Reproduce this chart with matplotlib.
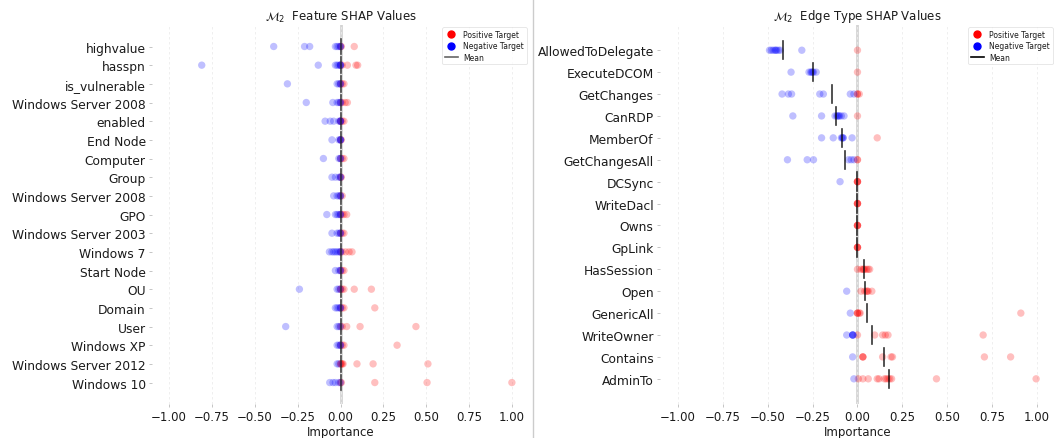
import matplotlib
matplotlib.use("Agg")
import matplotlib.pyplot as plt
from matplotlib.lines import Line2D

# ---- left panel: node feature SHAP values (top to bottom) ----
feature_labels = ["highvalue", "hasspn", "is_vulnerable", "Windows Server 2008", "enabled",
                  "End Node", "Computer", "Group", "Windows Server 2008", "GPO",
                  "Windows Server 2003", "Windows 7", "Start Node", "OU", "Domain",
                  "User", "Windows XP", "Windows Server 2012", "Windows 10"]
feature_neg = [
    [-0.39, -0.21, -0.18, -0.03, -0.02, -0.01, 0.0, 0.0],
    [-0.81, -0.13, -0.03, -0.02, -0.01, 0.0, 0.0, 0.0],
    [-0.31, -0.02, -0.01, 0.0, 0.0],
    [-0.20, -0.045, -0.02, -0.01, 0.0, 0.0],
    [-0.09, -0.06, -0.04, -0.01, 0.0, 0.0, 0.0],
    [-0.05, -0.01, 0.0, 0.0, 0.0],
    [-0.10, -0.01, 0.0, 0.0],
    [-0.05, -0.03, -0.01, 0.0, 0.0],
    [-0.04, -0.02, -0.01, 0.0, 0.0],
    [-0.08, -0.03, -0.02, -0.01, 0.0, 0.0],
    [-0.05, -0.02, -0.01, 0.0, 0.0],
    [-0.065, -0.05, -0.04, -0.03, -0.02, -0.01, 0.0, 0.0],
    [-0.03, -0.01, 0.0, 0.0],
    [-0.24, -0.02, -0.01, 0.0],
    [-0.03, -0.02, -0.01, 0.0, 0.0],
    [-0.32, -0.02, -0.01, 0.0],
    [-0.02, -0.01, 0.0, 0.0],
    [-0.02, -0.01],
    [-0.063, -0.044, -0.03, -0.01, 0.0],
]
feature_pos = [
    [0.0, 0.005, 0.08],
    [0.0, 0.01, 0.04, 0.09, 0.10],
    [0.0, 0.01, 0.02],
    [0.0, 0.01, 0.027, 0.04],
    [0.0, 0.0, 0.01, 0.02],
    [0.0, 0.005],
    [0.0, 0.01, 0.02],
    [0.0, 0.005],
    [0.0, 0.01],
    [0.0, 0.01, 0.02, 0.036],
    [0.0, 0.01, 0.02],
    [0.0, 0.01, 0.03, 0.05, 0.067],
    [0.0, 0.01, 0.02],
    [0.0, 0.0, 0.01, 0.02, 0.08, 0.18],
    [0.0, 0.01, 0.02, 0.20],
    [0.0, 0.01, 0.036, 0.114, 0.44],
    [0.0, 0.01, 0.02, 0.33],
    [0.0, 0.0, 0.005, 0.01, 0.015, 0.096, 0.19, 0.51],
    [0.0, 0.005, 0.20, 0.505, 1.0],
]
feature_mean = [0.0, 0.0, 0.0, 0.0, 0.0, 0.0, 0.0, 0.0, 0.0, 0.0,
                0.0, 0.0, 0.0, 0.0, 0.0, 0.0, 0.0, 0.0, 0.0]

# ---- right panel: edge type SHAP values (top to bottom) ----
edge_labels = ["AllowedToDelegate", "ExecuteDCOM", "GetChanges", "CanRDP", "MemberOf",
               "GetChangesAll", "DCSync", "WriteDacl", "Owns", "GpLink", "HasSession",
               "Open", "GenericAll", "WriteOwner", "Contains", "AdminTo"]
edge_neg = [
    [-0.49, -0.48, -0.47, -0.46, -0.455, -0.45, -0.44, -0.43, -0.31],
    [-0.37, -0.27, -0.26, -0.255, -0.25, -0.245, -0.23],
    [-0.42, -0.385, -0.367, -0.21, -0.19, -0.04, -0.02],
    [-0.36, -0.20, -0.125, -0.115, -0.11, -0.105, -0.10, -0.09, -0.075],
    [-0.20, -0.135, -0.09, -0.085, -0.08, -0.08, -0.03],
    [-0.39, -0.28, -0.245, -0.05, -0.035, -0.02],
    [-0.097],
    [],
    [],
    [],
    [],
    [-0.06],
    [-0.04],
    [-0.06, -0.027, -0.027, -0.027, -0.025],
    [-0.027],
    [-0.02],
]
edge_pos = [
    [0.0],
    [0.0],
    [0.0, 0.0, 0.01],
    [0.0],
    [0.11],
    [0.0, 0.0],
    [0.0, 0.0, 0.0, 0.0],
    [0.0, 0.0, 0.0, 0.0],
    [0.0, 0.0, 0.0, 0.0],
    [0.0, 0.0, 0.0, 0.0],
    [0.0, 0.02, 0.03, 0.035, 0.04, 0.05, 0.06, 0.068],
    [0.02, 0.04, 0.05, 0.055, 0.06, 0.08],
    [0.0, 0.0, 0.0, 0.01, 0.015, 0.91],
    [0.0, 0.096, 0.14, 0.155, 0.17, 0.70],
    [0.03, 0.03, 0.03, 0.14, 0.187, 0.195, 0.707, 0.853],
    [0.005, 0.03, 0.06, 0.11, 0.12, 0.15, 0.16, 0.17, 0.18, 0.19, 0.44, 0.995],
]
edge_mean = [-0.415, -0.25, -0.14, -0.12, -0.085, -0.067, -0.005, 0.0, 0.0, 0.0,
             0.035, 0.043, 0.054, 0.083, 0.147, 0.177]

TEXT = "#1a1a1a"
FS = 8.5
YFS = 8.8


def draw_panel(ax, labels, neg, pos, means, title, mean_color, legend_mean):
    n = len(labels)
    ax.axvline(0, color="#d4d4d4", lw=2, zorder=0)
    for i in range(n):
        if pos[i]:
            ax.scatter(pos[i], [i] * len(pos[i]), s=28, color="red", alpha=0.25,
                       edgecolors="none", zorder=2)
        if neg[i]:
            ax.scatter(neg[i], [i] * len(neg[i]), s=28, color="blue", alpha=0.25,
                       edgecolors="none", zorder=2)
        ax.plot([means[i], means[i]], [i - 0.42, i + 0.42], color=mean_color,
                lw=1.2, alpha=0.8, zorder=3)

    ax.set_yticks(range(n))
    ax.set_yticklabels(labels, fontsize=YFS, color=TEXT)
    ax.set_ylim(n - 1 + 1.15, -1.15)
    ax.set_xlim(-1.1, 1.1)
    ax.set_xticks([-1.0, -0.75, -0.5, -0.25, 0.0, 0.25, 0.5, 0.75, 1.0])
    ax.set_xticklabels([f"{v:.2f}".replace("-", "\u2212") for v in ax.get_xticks()],
                       fontsize=FS, color=TEXT)
    ax.set_xlabel("Importance", fontsize=FS, color=TEXT, labelpad=1)
    ax.set_title(r"$\mathcal{M}_2$  " + title, fontsize=FS, color=TEXT, pad=4)
    ax.grid(axis="x", color="#ececec", ls=(0, (3, 3)), lw=0.6)
    ax.set_axisbelow(True)
    for sp in ax.spines.values():
        sp.set_visible(False)
    ax.tick_params(color="#bbbbbb", length=2.5, width=0.6, pad=2)

    handles = [
        Line2D([], [], marker="o", ls="none", color="red", markersize=5),
        Line2D([], [], marker="o", ls="none", color="blue", markersize=5),
        Line2D([], [], color=legend_mean, lw=1.2),
    ]
    leg = ax.legend(handles, ["Positive Target", "Negative Target", "Mean"],
                    loc="upper right", fontsize=5.5, frameon=True, borderpad=0.35,
                    handlelength=1.7, handletextpad=0.7, labelspacing=0.3,
                    borderaxespad=0.3)
    leg.get_frame().set_edgecolor("#dddddd")
    leg.get_frame().set_linewidth(0.6)
    for t in leg.get_texts():
        t.set_color(TEXT)


fig = plt.figure(figsize=(10.64, 4.39), dpi=100)
ax1 = fig.add_axes([0.1429, 0.0774, 0.3543, 0.8633])
ax2 = fig.add_axes([0.6203, 0.0774, 0.3712, 0.8633])

draw_panel(ax1, feature_labels, feature_neg, feature_pos, feature_mean,
           "Feature SHAP Values", "#222222", "#666666")
draw_panel(ax2, edge_labels, edge_neg, edge_pos, edge_mean,
           "Edge Type SHAP Values", "black", "black")

fig.add_artist(Line2D([0.501, 0.501], [0, 1], transform=fig.transFigure,
                      color="#cccccc", lw=1))

fig.savefig("out.png", dpi=100)
